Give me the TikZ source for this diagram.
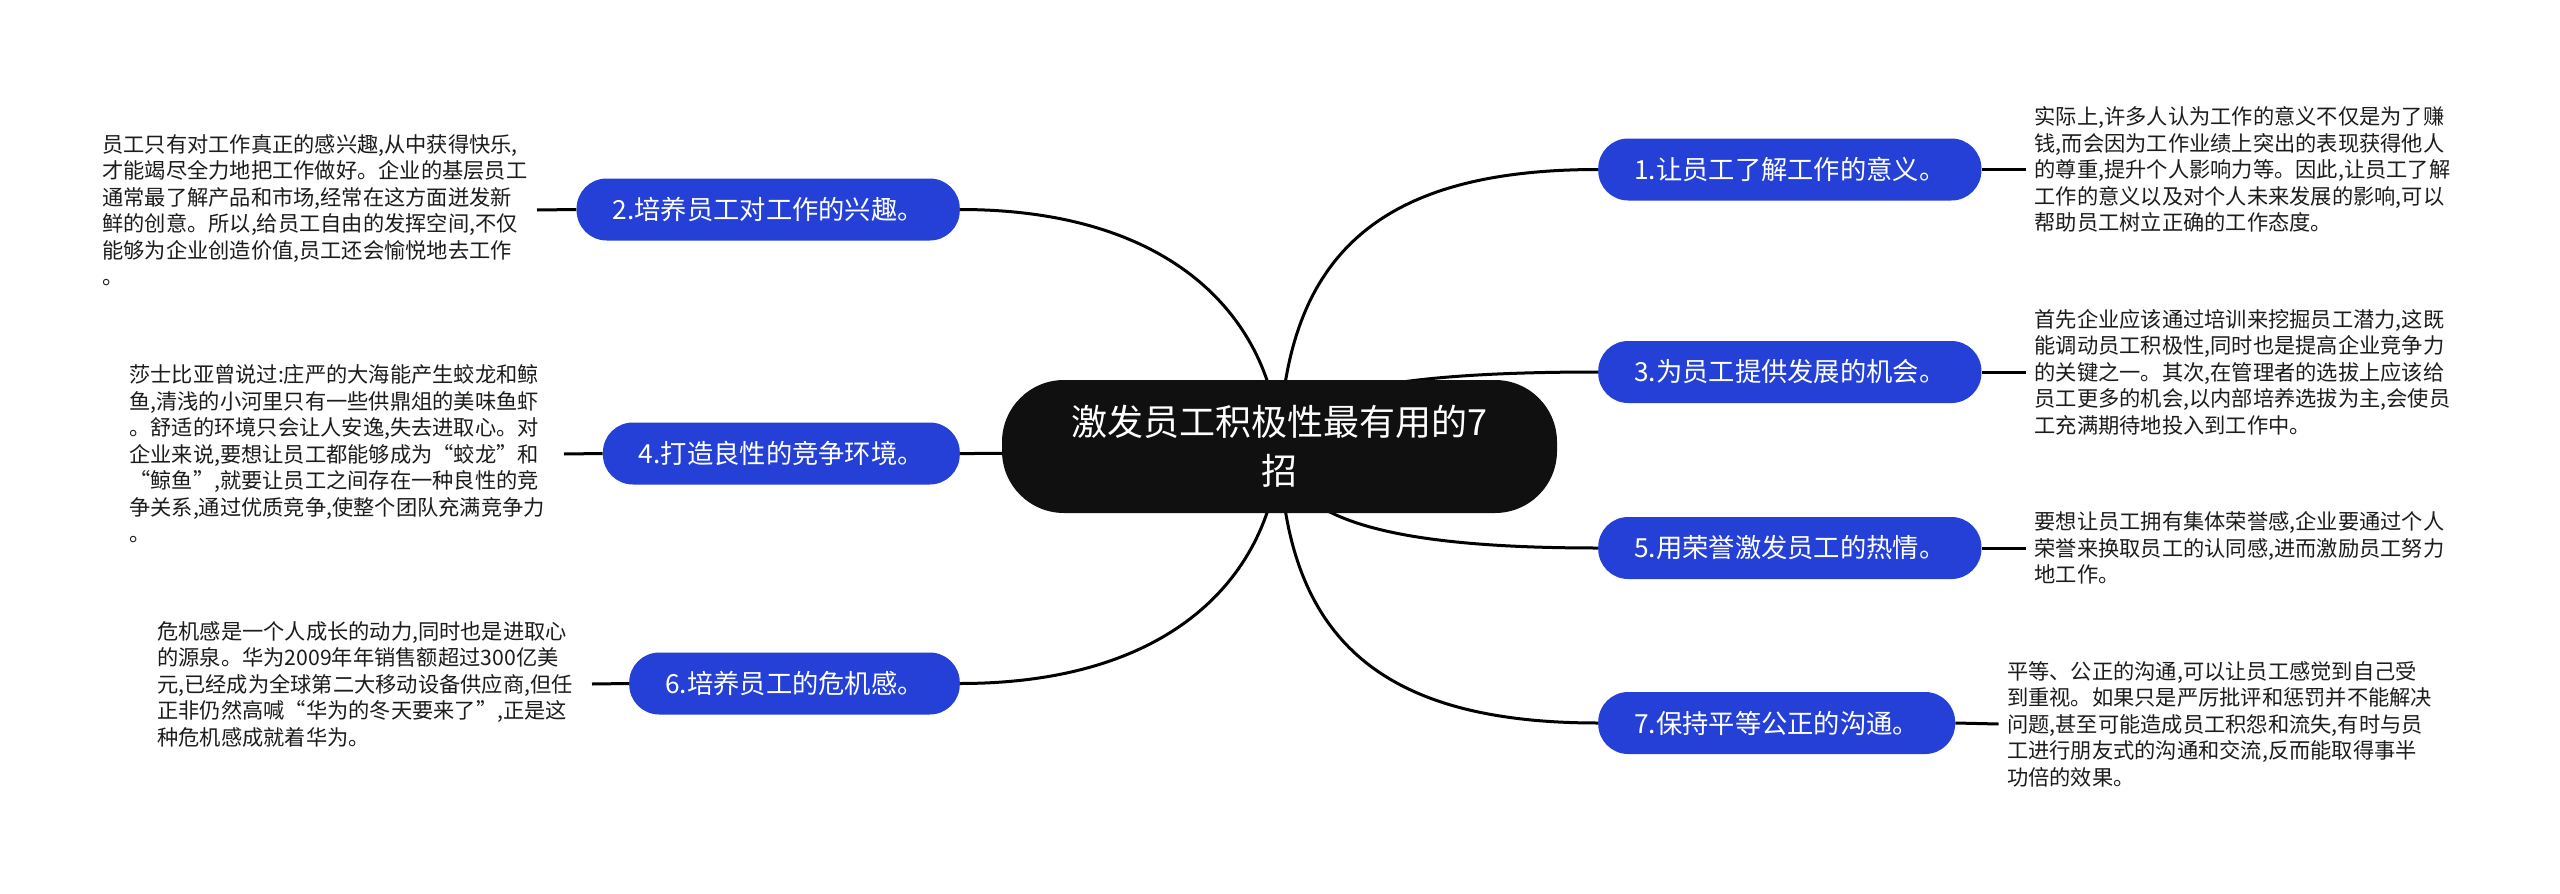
\documentclass[tikz,border=0pt]{standalone}
\usepackage{fontspec}
\setmainfont{Noto Sans CJK SC}
\newfontfamily\cjk{Noto Sans CJK SC}
\definecolor{topicblue}{RGB}{37,64,214}
\definecolor{rootfill}{RGB}{16,16,16}
\definecolor{desctext}{RGB}{28,28,28}
\pgfdeclarelayer{bg}
\pgfsetlayers{bg,main}
\begin{document}
\begin{tikzpicture}[x=1pt,y=-1pt,
  conn/.style={line width=3pt, draw=black},
  topic/.style={fill=topicblue, text=white, rounded corners=30pt, minimum height=62pt, inner xsep=36pt, inner ysep=0pt, font=\cjk\fontsize{26.3}{30}\selectfont},
  rootnode/.style={fill=rootfill, text=white, rounded corners=62pt, minimum width=555pt, minimum height=133pt, align=center, font=\cjk\fontsize{36}{49}\selectfont},
  desc/.style={text=desctext, align=left, text width=426pt, inner xsep=8.5pt, inner ysep=0pt, font=\cjk\fontsize{21.25}{26.5}\selectfont}]
\useasboundingbox (0,0) rectangle (2560,894);

\node[rootnode] (root) at (1279.5,446.5) {激发员工积极性最有用的7\\招};

\node[topic, anchor=west] (t1) at (1598,169.5) {1.让员工了解工作的意义。};
\node[topic, anchor=west] (t3) at (1598,372) {3.为员工提供发展的机会。};
\node[topic, anchor=west] (t5) at (1598,548) {5.用荣誉激发员工的热情。};
\node[topic, anchor=west] (t7) at (1598,723) {7.保持平等公正的沟通。};
\node[topic, anchor=east] (t2) at (960,209.5) {2.培养员工对工作的兴趣。};
\node[topic, anchor=east] (t4) at (960,453.5) {4.打造良性的竞争环境。};
\node[topic, anchor=east] (t6) at (960,683.5) {6.培养员工的危机感。};

\node[desc, anchor=west] (d1) at (2026,169.5) {实际上,许多人认为工作的意义不仅是为了赚\\钱,而会因为工作业绩上突出的表现获得他人\\的尊重,提升个人影响力等。因此,让员工了解\\工作的意义以及对个人未来发展的影响,可以\\帮助员工树立正确的工作态度。};
\node[desc, anchor=west] (d3) at (2026,372) {首先企业应该通过培训来挖掘员工潜力,这既\\能调动员工积极性,同时也是提高企业竞争力\\的关键之一。其次,在管理者的选拔上应该给\\员工更多的机会,以内部培养选拔为主,会使员\\工充满期待地投入到工作中。};
\node[desc, anchor=west] (d5) at (2026,548) {要想让员工拥有集体荣誉感,企业要通过个人\\荣誉来换取员工的认同感,进而激励员工努力\\地工作。};
\node[desc, anchor=west] (d7) at (1998.5,724) {平等、公正的沟通,可以让员工感觉到自己受\\到重视。如果只是严厉批评和惩罚并不能解决\\问题,甚至可能造成员工积怨和流失,有时与员\\工进行朋友式的沟通和交流,反而能取得事半\\功倍的效果。};
\node[desc, anchor=east] (d2) at (537,210) {员工只有对工作真正的感兴趣,从中获得快乐,\\才能竭尽全力地把工作做好。企业的基层员工\\通常最了解产品和市场,经常在这方面迸发新\\鲜的创意。所以,给员工自由的发挥空间,不仅\\能够为企业创造价值,员工还会愉悦地去工作\\。};
\node[desc, anchor=east] (d4) at (564,454) {莎士比亚曾说过:庄严的大海能产生蛟龙和鲸\\鱼,清浅的小河里只有一些供鼎俎的美味鱼虾\\。舒适的环境只会让人安逸,失去进取心。对\\企业来说,要想让员工都能够成为“蛟龙”和\\“鲸鱼”,就要让员工之间存在一种良性的竞\\争关系,通过优质竞争,使整个团队充满竞争力\\。};
\node[desc, anchor=east] (d6) at (592,684) {危机感是一个人成长的动力,同时也是进取心\\的源泉。华为2009年年销售额超过300亿美\\元,已经成为全球第二大移动设备供应商,但任\\正非仍然高喊“华为的冬天要来了”,正是这\\种危机感成就着华为。};

\begin{pgfonlayer}{bg}
\fill[white] (0,0) rectangle (2560,894);
\draw[conn] (root.center) .. controls (1285,252.6) and (1381.5,169.5) .. (t1.west);
\draw[conn] (root.center) .. controls (1285,394.4) and (1381.5,372) .. (t3.west);
\draw[conn] (root.center) .. controls (1285,517.5) and (1381.5,548) .. (t5.west);
\draw[conn] (root.center) .. controls (1285,640) and (1381.5,723) .. (t7.west);
\draw[conn] (root.center) .. controls (1274,328) and (1183.6,209.5) .. (t2.east);
\draw[conn] (root.center) .. controls (1274,450) and (1183.6,453.5) .. (t4.east);
\draw[conn] (root.center) .. controls (1274,565) and (1183.6,683.5) .. (t6.east);
\draw[conn] (t1.east) -- (d1.west);
\draw[conn] (t3.east) -- (d3.west);
\draw[conn] (t5.east) -- (d5.west);
\draw[conn] (t7.east) -- (d7.west);
\draw[conn] (t2.west) -- (d2.east);
\draw[conn] (t4.west) -- (d4.east);
\draw[conn] (t6.west) -- (d6.east);
\end{pgfonlayer}
\end{tikzpicture}
\end{document}
